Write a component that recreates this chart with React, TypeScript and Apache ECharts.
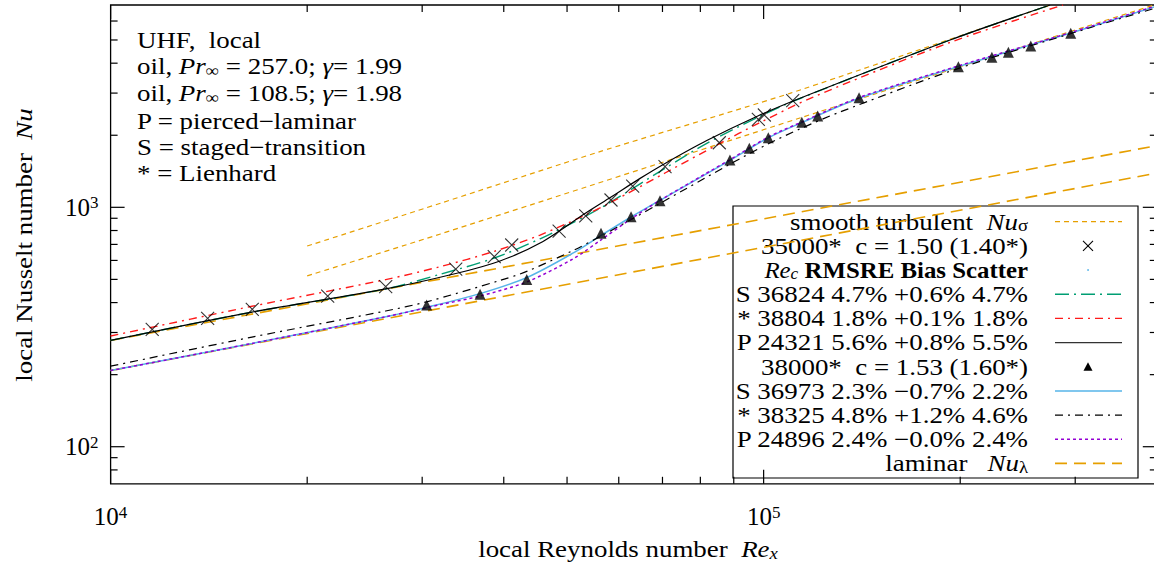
import React, { useEffect, useRef } from 'react';
import * as echarts from 'echarts';

// ---------- data (Re_x, Nu) ----------
const laminarUpper: number[][] = [[1e4, 278], [4e5, 1810]];
const laminarLower: number[][] = [[1e4, 208], [4e5, 1390]];
const turbulentUpper: number[][] = [[2e4, 689], [3.2e4, 1040], [5.6e4, 1705], [1.1e5, 3000], [2.75e5, 7000]];
const turbulentLower: number[][] = [[2e4, 517], [3.2e4, 774], [1.31e5, 2675], [3.96e5, 7000]];

const crossPoints: number[][] = [
  [1.158e4, 309], [1.408e4, 344], [1.648e4, 375], [2.15e4, 426], [2.638e4, 466], [3.377e4, 552],
  [3.868e4, 622], [4.114e4, 696], [4.862e4, 796], [5.341e4, 920], [5.838e4, 1073], [6.302e4, 1227],
  [7.063e4, 1478], [8.553e4, 1861], [9.815e4, 2331], [1.0025e5, 2430], [1.108e5, 2789],
];
const trianglePoints: number[][] = [
  [3.048e4, 391], [3.679e4, 433], [4.338e4, 500], [5.636e4, 779], [6.266e4, 913], [6.939e4, 1066],
  [8.88e4, 1576], [9.508e4, 1763], [1.0167e5, 1953], [1.144e5, 2265], [1.21e5, 2407], [1.4e5, 2870],
  [1.987e5, 3866], [2.236e5, 4233], [2.37e5, 4441], [2.565e5, 4719], [2.953e5, 5332],
];

const upperS: number[][] = [
  [1e4, 278], [1.646e4, 365], [2.638e4, 456], [3.195e4, 525], [3.869e4, 614], [4.547e4, 739],
  [5.341e4, 920], [5.839e4, 1054], [7.063e4, 1456], [8.183e4, 1851], [9.815e4, 2384], [1.137e5, 2848],
  [1.93e5, 4999], [2.746e5, 7000],
];
const upperStar: number[][] = [
  [1e4, 290], [1.646e4, 386], [2.638e4, 499], [3.195e4, 565], [3.869e4, 655], [4.547e4, 766],
  [5.341e4, 930], [5.839e4, 1050], [7.063e4, 1391], [8.554e4, 1844], [9.815e4, 2241], [1.186e5, 2873],
  [1.93e5, 4885], [2.874e5, 7000],
];
const upperP: number[][] = [
  [1e4, 278], [1.646e4, 365], [2.638e4, 456], [3.378e4, 529], [3.948e4, 597], [4.547e4, 709],
  [5.341e4, 947], [5.839e4, 1104], [6.469e4, 1321], [7.063e4, 1525], [8.183e4, 1901], [9.815e4, 2413],
  [1.137e5, 2856], [1.93e5, 4999], [2.746e5, 7000],
];
const lowerS: number[][] = [
  [1e4, 208], [1.646e4, 270], [2.638e4, 349], [3.048e4, 382], [3.679e4, 436], [4.338e4, 509],
  [5.112e4, 645], [5.637e4, 763], [6.267e4, 911], [6.94e4, 1070], [8.882e4, 1571], [1.0167e5, 1951],
  [1.1438e5, 2258], [1.4e5, 2856], [1.982e5, 3867], [2.946e5, 5331], [3.961e5, 6865],
];
const lowerStar: number[][] = [
  [1e4, 217], [1.646e4, 287], [2.638e4, 369], [3.048e4, 403], [3.948e4, 495], [4.338e4, 540],
  [5.112e4, 661], [5.637e4, 759], [6.267e4, 889], [6.94e4, 1039], [8.882e4, 1515], [1.0167e5, 1842],
  [1.1438e5, 2142], [1.309e5, 2501], [1.95e5, 3738], [3.161e5, 5627], [3.961e5, 6767],
];
const lowerP: number[][] = [
  [1e4, 208], [1.646e4, 270], [2.638e4, 349], [3.195e4, 392], [3.679e4, 426], [4.338e4, 488],
  [5.112e4, 610], [5.637e4, 731], [6.267e4, 895], [6.94e4, 1070], [8.882e4, 1582], [1.0167e5, 1966],
  [1.1438e5, 2271], [1.4e5, 2873], [1.982e5, 3889], [2.946e5, 5362], [3.961e5, 6905],
];

const xMajorTicks = [1e4, 1e5];
const xMinorTicks = [2e4, 3e4, 4e4, 5e4, 6e4, 7e4, 8e4, 9e4, 2e5, 3e5];
const yMajorTicks = [100, 1000];
const yMinorTicks = [80, 90, 200, 300, 400, 500, 600, 700, 800, 900, 2000, 3000, 4000, 5000, 6000];

const annotationLines = [
  '{n|UHF,  local}',
  '{n|oil, }{i|Pr}{s|∞}{n| = 257.0; }{i|γ}{n|= 1.99}',
  '{n|oil, }{i|Pr}{s|∞}{n| = 108.5; }{i|γ}{n|= 1.98}',
  '{n|P = pierced−laminar}',
  '{n|S = staged−transition}',
  '{n|* = Lienhard}',
];

// ---------- styles ----------
const FONT = '"Liberation Serif", "Times New Roman", serif';
const ORANGE = '#e69f00';
const GREEN = '#009e73';
const RED = '#ff1a1a';
const BLUE = '#56b4e9';
const PURPLE = '#9400d3';
const BLACK = '#000000';
const SX = 1.17;

const rich: any = {
  n: { fontFamily: FONT, fontSize: 23, lineHeight: 24, color: '#000' },
  i: { fontFamily: FONT, fontSize: 23, lineHeight: 24, fontStyle: 'italic', color: '#000' },
  b: { fontFamily: FONT, fontSize: 23, lineHeight: 24, fontWeight: 'bold', color: '#000' },
  s: { fontFamily: FONT, fontSize: 16, lineHeight: 6, verticalAlign: 'bottom', color: '#000' },
  si: { fontFamily: FONT, fontSize: 16, lineHeight: 6, verticalAlign: 'bottom', fontStyle: 'italic', color: '#000' },
};

const legendRows: any[] = [
  { text: '{n|smooth turbulent  }{i|Nu}{s|σ}', kind: 'line', color: ORANGE, dash: [5, 4], width: 1.2 },
  { text: '{n|35000*  c = 1.50 (1.40*)}', kind: 'cross' },
  { text: '{i|Re}{si|c}{b| RMSRE Bias Scatter}', kind: 'dot', sx: 1.08 },
  { text: '{n|S 36824 4.7% +0.6% 4.7%}', kind: 'line', color: GREEN, dash: [14, 5, 2, 5], width: 1.4 },
  { text: '{n|* 38804 1.8% +0.1% 1.8%}', kind: 'line', color: RED, dash: [8, 5, 2, 5], width: 1.4 },
  { text: '{n|P 24321 5.6% +0.8% 5.5%}', kind: 'line', color: '#333', dash: null, width: 1.3 },
  { text: '{n|38000*  c = 1.53 (1.60*)}', kind: 'tri' },
  { text: '{n|S 36973 2.3% −0.7% 2.2%}', kind: 'line', color: BLUE, dash: null, width: 1.5 },
  { text: '{n|* 38325 4.8% +1.2% 4.6%}', kind: 'line', color: BLACK, dash: [8, 5, 2, 5], width: 1.2 },
  { text: '{n|P 24896 2.4% −0.0% 2.4%}', kind: 'line', color: PURPLE, dash: [3, 3], width: 1.5 },
  { text: '{n|laminar   }{i|Nu}{s|λ}', kind: 'line', color: ORANGE, dash: [12, 7], width: 1.6 },
];

function powLabel(v: number): string {
  const e = Math.log10(v);
  const r = Math.round(e);
  return Math.abs(e - r) < 1e-6 ? `{b|10}{p|${r}}` : '';
}

const axisRich = {
  b: { fontFamily: FONT, fontSize: 25, lineHeight: 26, color: '#000' },
  p: { fontFamily: FONT, fontSize: 17, lineHeight: 8, verticalAlign: 'top', color: '#000' },
};

function buildOption(): any {
  const tickData: number[][] = [
    ...xMajorTicks.map((v) => [v, 100, 0, 1]),
    ...xMinorTicks.map((v) => [v, 100, 0, 0]),
    ...yMajorTicks.map((v) => [2e4, v, 1, 1]),
    ...yMinorTicks.map((v) => [2e4, v, 1, 0]),
  ];

  const line = (data: number[][], color: string, width: number, dash: any, smooth: number, z = 3) => ({
    type: 'line', data, showSymbol: false, symbol: 'none', smooth, silent: true, z,
    lineStyle: { color, width, type: dash || 'solid' },
  });

  const legendChildren: any[] = [
    { type: 'rect', shape: { x: 733, y: 206, width: 405, height: 272 }, style: { fill: '#fff', stroke: '#000', lineWidth: 1.2 } },
  ];
  legendRows.forEach((row, i) => {
    const y = 221.7 + i * 24.17;
    legendChildren.push({
      type: 'text', x: 1028, y, scaleX: row.sx || SX,
      style: { text: row.text, rich, align: 'right', verticalAlign: 'middle' },
    });
    if (row.kind === 'line') {
      legendChildren.push({
        type: 'line', shape: { x1: 1055, y1: y, x2: 1122, y2: y },
        style: { stroke: row.color, lineWidth: row.width, lineDash: row.dash || undefined },
      });
    } else if (row.kind === 'cross') {
      legendChildren.push({ type: 'line', shape: { x1: 1083, y1: y - 5, x2: 1093, y2: y + 5 }, style: { stroke: '#000', lineWidth: 1.1 } });
      legendChildren.push({ type: 'line', shape: { x1: 1083, y1: y + 5, x2: 1093, y2: y - 5 }, style: { stroke: '#000', lineWidth: 1.1 } });
    } else if (row.kind === 'tri') {
      legendChildren.push({ type: 'polygon', shape: { points: [[1083.5, y + 4], [1092.5, y + 4], [1088, y - 4.5]] }, style: { fill: '#000' } });
    } else if (row.kind === 'dot') {
      legendChildren.push({ type: 'circle', shape: { cx: 1088, cy: y, r: 0.9 }, style: { fill: BLUE } });
    }
  });

  const annotationY = [40, 66, 93, 121, 147.5, 173.5];
  const annotations = annotationLines.map((t, i) => ({
    type: 'text', x: 137, y: annotationY[i], scaleX: SX,
    style: { text: t, rich, align: 'left', verticalAlign: 'middle' },
  }));

  return {
    animation: false,
    backgroundColor: '#fff',
    grid: { left: 110.6, top: 5, width: 1046.2, height: 478.8, show: true, borderColor: '#000', borderWidth: 1.3, backgroundColor: 'transparent' },
    xAxis: {
      type: 'log', logBase: 10, min: 1e4, max: 4e5,
      axisLine: { show: false }, axisTick: { show: false }, splitLine: { show: false },
      axisLabel: { formatter: powLabel, rich: axisRich, margin: 20, fontFamily: FONT, color: '#000', showMaxLabel: false },
    },
    yAxis: {
      type: 'log', logBase: 10, min: 70, max: 7000,
      axisLine: { show: false }, axisTick: { show: false }, splitLine: { show: false },
      axisLabel: { formatter: powLabel, rich: axisRich, margin: 12, fontFamily: FONT, color: '#000', showMaxLabel: false, showMinLabel: false },
    },
    series: [
      {
        type: 'custom', coordinateSystem: 'cartesian2d', data: tickData, encode: { x: 0, y: 1 }, silent: true, z: 2, clip: false,
        renderItem: (params: any, api: any) => {
          const cs = params.coordSys;
          const kind = api.value(2);
          const major = api.value(3);
          const len = major ? 14 : 7;
          const p = api.coord([api.value(0), api.value(1)]);
          const st = { stroke: '#000', lineWidth: 1.2 };
          if (kind === 0) {
            const x = p[0];
            return {
              type: 'group', children: [
                { type: 'line', shape: { x1: x, y1: cs.y + cs.height, x2: x, y2: cs.y + cs.height - len }, style: st },
                { type: 'line', shape: { x1: x, y1: cs.y, x2: x, y2: cs.y + len }, style: st },
              ],
            };
          }
          const y = p[1];
          return {
            type: 'group', children: [
              { type: 'line', shape: { x1: cs.x, y1: y, x2: cs.x + len, y2: y }, style: st },
              { type: 'line', shape: { x1: cs.x + cs.width, y1: y, x2: cs.x + cs.width - len, y2: y }, style: st },
            ],
          };
        },
      },
      line(laminarUpper, ORANGE, 1.6, [12, 7], 0),
      line(laminarLower, ORANGE, 1.6, [12, 7], 0),
      line(turbulentUpper, ORANGE, 1.2, [5, 4], 0.2),
      line(turbulentLower, ORANGE, 1.2, [5, 4], 0.2),
      line(upperS, GREEN, 1.4, [14, 5, 2, 5], 0.3, 4),
      line(upperStar, RED, 1.4, [8, 5, 2, 5], 0.3, 4),
      line(upperP, BLACK, 1.2, null, 0.3, 5),
      line(lowerS, BLUE, 1.5, null, 0.3, 4),
      line(lowerStar, BLACK, 1.2, [8, 5, 2, 5], 0.3, 4),
      line(lowerP, PURPLE, 1.5, [3, 3], 0.3, 5),
      {
        type: 'scatter', data: crossPoints, symbol: 'path://M0,0L10,10M10,0L0,10', symbolSize: 13, silent: true, z: 6,
        itemStyle: { color: 'transparent', borderColor: '#000', borderWidth: 1.1 },
      },
      {
        type: 'scatter', data: trianglePoints, symbol: 'triangle', symbolSize: 11, silent: true, z: 6,
        itemStyle: { color: '#000' },
      },
    ],
    graphic: [
      ...annotations,
      {
        type: 'text', x: 24, y: 245, rotation: Math.PI / 2, scaleX: SX,
        style: { text: '{n|local Nusselt number  }{i|Nu}', rich, align: 'center', verticalAlign: 'middle' },
      },
      {
        type: 'text', x: 628, y: 549, scaleX: SX,
        style: { text: '{n|local Reynolds number  }{i|Re}{si|x}', rich, align: 'center', verticalAlign: 'middle' },
      },
      { type: 'group', z: 100, children: legendChildren },
    ],
  };
}

export default function App() {
  const ref = useRef<HTMLDivElement>(null);
  useEffect(() => {
    const chart = echarts.init(ref.current as HTMLDivElement, undefined, { renderer: 'svg', width: 1170, height: 569 });
    chart.setOption(buildOption());
    return () => chart.dispose();
  }, []);
  return (
    <div style={{ position: 'fixed', left: 0, top: 0, width: 1154, height: 569, overflow: 'hidden', background: '#fff' }}>
      <div ref={ref} style={{ width: 1170, height: 569 }} />
    </div>
  );
}
